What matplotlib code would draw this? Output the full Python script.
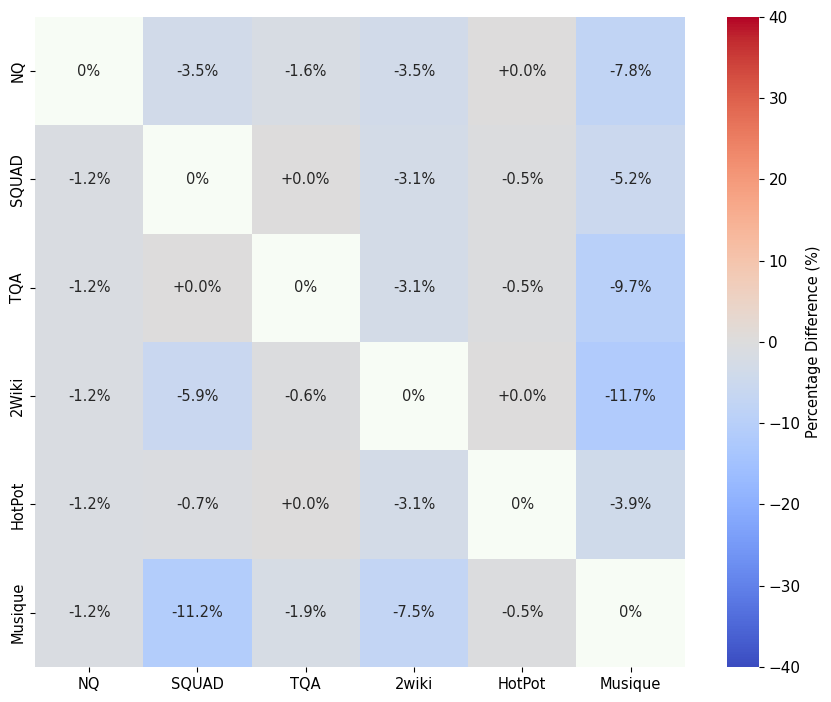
import matplotlib
matplotlib.use("Agg")
import matplotlib.pyplot as plt
from matplotlib.colors import ListedColormap
import numpy as np
import seaborn as sns

train_sets = ["NQ", "SQUAD", "TQA", "2Wiki", "HotPot", "Musique"]
test_sets = ["NQ", "SQUAD", "TQA", "2wiki", "HotPot", "Musique"]

nq = [0.0, -3.5, -1.6, -3.5, 0.0, -7.8]
squad = [-1.2, 0.0, 0.0, -3.1, -0.5, -5.2]
tqa = [-1.2, 0.0, 0.0, -3.1, -0.5, -9.7]
wiki2 = [-1.2, -5.9, -0.6, 0.0, 0.0, -11.7]
hotpot = [-1.2, -0.7, 0.0, -3.1, 0.0, -3.9]
musique = [-1.2, -11.2, -1.9, -7.5, -0.5, 0.0]

data = np.array([nq, squad, tqa, wiki2, hotpot, musique])
n = len(train_sets)

# annotation strings
labels = np.empty(data.shape, dtype=object)
for i in range(n):
    for j in range(n):
        labels[i, j] = "0%" if i == j else f"{data[i, j]:+.1f}%"

diag = np.eye(n, dtype=bool)

fig = plt.figure(figsize=(8.31, 7.02), dpi=100)
ax = fig.add_axes([0.042, 0.050, 0.782, 0.926])
cax = fig.add_axes([0.875, 0.050, 0.038, 0.926])

fs = 10.5
annot_kws = {"fontsize": fs, "color": "#262626"}
sns.heatmap(data, mask=diag, cmap="coolwarm", vmin=-40, vmax=40, center=0,
            annot=labels, fmt="", annot_kws=annot_kws,
            ax=ax, cbar_ax=cax,
            cbar_kws={"label": "Percentage Difference (%)"})
sns.heatmap(data, mask=~diag, cmap=ListedColormap(["#f7fcf5"]), cbar=False,
            annot=labels, fmt="", annot_kws=annot_kws,
            ax=ax)

ax.set_xticks(np.arange(n) + 0.5)
ax.set_xticklabels(test_sets, rotation=0, fontsize=fs)
ax.set_yticks(np.arange(n) + 0.5)
ax.set_yticklabels(train_sets, rotation=90, va="center", fontsize=fs)
cax.tick_params(labelsize=11)
cax.yaxis.label.set_size(fs)

fig.savefig("out.png", dpi=100)
